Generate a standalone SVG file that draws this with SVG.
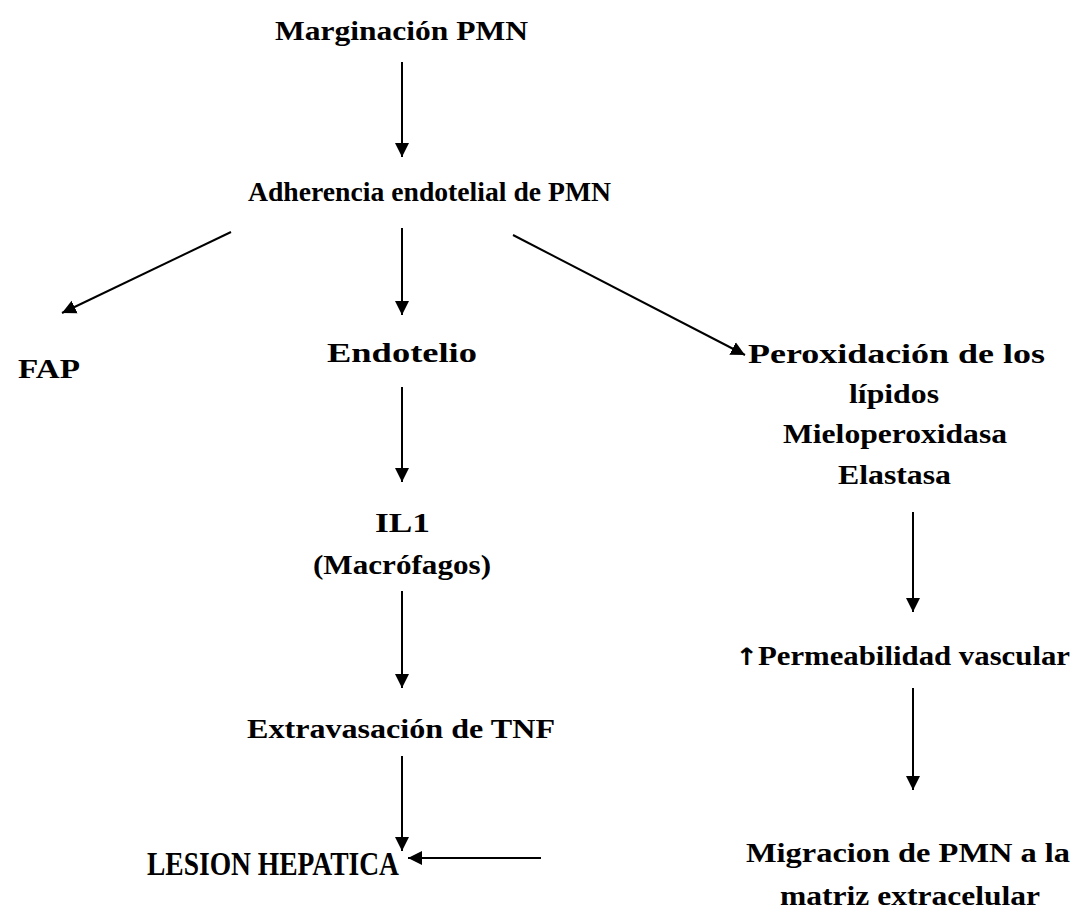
<svg xmlns="http://www.w3.org/2000/svg" width="1075" height="911" viewBox="0 0 1075 911">
<style>
  text { font-family: "Liberation Serif", "Times New Roman", serif; font-weight: bold; font-size: 27px; fill: #000; text-anchor: middle; }
  .big { font-size: 33px; }
  .up { font-family: "DejaVu Sans", sans-serif; font-size: 24px; }
  .conn { stroke: #000; stroke-width: 2; fill: none; marker-end: url(#ah); }
</style>
<defs>
  <marker id="ah" markerUnits="userSpaceOnUse" markerWidth="16" markerHeight="16" viewBox="0 0 16 16" refX="14" refY="8" orient="auto">
    <path d="M0,1 L14,8 L0,15 Z" fill="#000"/>
  </marker>
</defs>
<rect width="1075" height="911" fill="#fff"/>
<g id="connectors">
  <line class="conn" x1="402" y1="62" x2="402" y2="157"/>
  <line class="conn" x1="231" y1="232" x2="62" y2="313"/>
  <line class="conn" x1="402" y1="228" x2="402" y2="315"/>
  <line class="conn" x1="513" y1="235" x2="745" y2="355"/>
  <line class="conn" x1="402" y1="387" x2="402" y2="482"/>
  <line class="conn" x1="402" y1="591" x2="402" y2="688"/>
  <line class="conn" x1="402" y1="756" x2="402" y2="851"/>
  <line class="conn" x1="913" y1="512" x2="913" y2="612"/>
  <line class="conn" x1="913" y1="688" x2="913" y2="790"/>
  <line class="conn" x1="541" y1="858" x2="408" y2="858"/>
</g>
<g id="n-marginacion"><text x="401.5" y="40" textLength="253" lengthAdjust="spacingAndGlyphs">Marginación PMN</text></g>
<g id="n-adherencia"><text x="429.5" y="201" textLength="363" lengthAdjust="spacingAndGlyphs">Adherencia endotelial de PMN</text></g>
<g id="n-fap"><text x="49" y="378" textLength="62" lengthAdjust="spacingAndGlyphs">FAP</text></g>
<g id="n-endotelio"><text x="402" y="362" textLength="150" lengthAdjust="spacingAndGlyphs">Endotelio</text></g>
<g id="n-peroxidacion">
  <text x="896.5" y="363" textLength="297" lengthAdjust="spacingAndGlyphs">Peroxidación de los</text>
  <text x="894" y="403" textLength="90" lengthAdjust="spacingAndGlyphs">lípidos</text>
  <text x="895" y="443" textLength="224" lengthAdjust="spacingAndGlyphs">Mieloperoxidasa</text>
  <text x="894.5" y="484" textLength="113" lengthAdjust="spacingAndGlyphs">Elastasa</text>
</g>
<g id="n-il1">
  <text x="402.5" y="532" textLength="55" lengthAdjust="spacingAndGlyphs">IL1</text>
  <text x="402" y="574" textLength="178" lengthAdjust="spacingAndGlyphs">(Macrófagos)</text>
</g>
<g id="n-extravasacion"><text x="401" y="738" textLength="308" lengthAdjust="spacingAndGlyphs">Extravasación de TNF</text></g>
<g id="n-lesion"><text class="big" x="273" y="875" textLength="252" lengthAdjust="spacingAndGlyphs">LESION HEPATICA</text></g>
<g id="n-permeabilidad"><text x="902.5" y="665" textLength="335" lengthAdjust="spacingAndGlyphs"><tspan class="up">↑</tspan>Permeabilidad vascular</text></g>
<g id="n-migracion">
  <text x="908" y="862" textLength="324" lengthAdjust="spacingAndGlyphs">Migracion de PMN a la</text>
  <text x="910" y="905" textLength="260" lengthAdjust="spacingAndGlyphs">matriz extracelular</text>
</g>
</svg>
